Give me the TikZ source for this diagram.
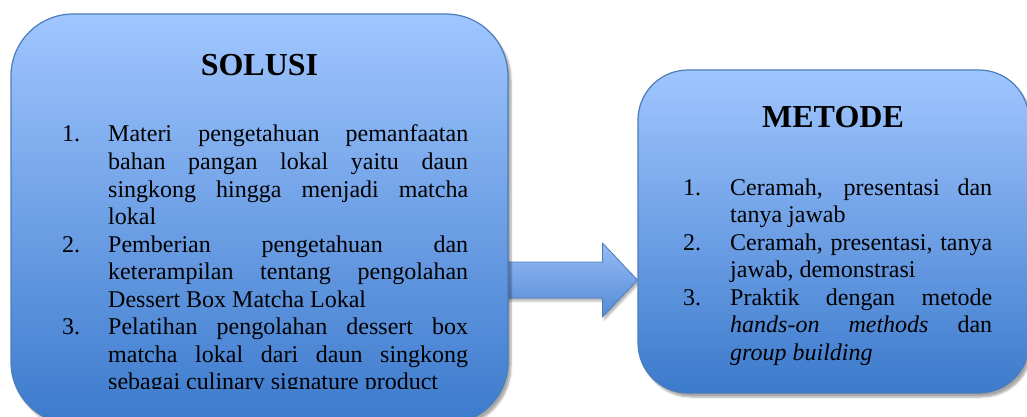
\documentclass[tikz,border=0pt]{standalone}
\usepackage{fontspec}
\setmainfont{Liberation Serif}
\usetikzlibrary{shadows.blur,calc,backgrounds}

\definecolor{paneltop}{RGB}{160,198,255}
\definecolor{panelbot}{RGB}{60,122,204}
\definecolor{panelline}{RGB}{74,126,187}
\definecolor{arrowtop}{RGB}{150,188,245}
\definecolor{arrowbot}{RGB}{84,138,214}

\newcommand{\numitem}[3]{\hangindent=#1\hangafter=1\noindent\makebox[#1][l]{#2}#3\par}

\begin{document}
\begin{tikzpicture}[x=1pt,y=-1pt,
  panel/.style={draw=panelline,line width=1.2pt,top color=paneltop,bottom color=panelbot,
    blur shadow={shadow xshift=3pt,shadow yshift=-4pt,shadow blur steps=6,shadow opacity=35}},
  arrowbody/.style={draw=panelline,line width=0.8pt,top color=arrowtop,bottom color=arrowbot,
    blur shadow={shadow xshift=2pt,shadow yshift=-3pt,shadow blur steps=4,shadow opacity=30}},
  heading/.style={font=\fontsize{32}{36}\selectfont\bfseries,inner sep=0pt,anchor=base},
  itemlist/.style={font=\fontsize{24}{27.5}\selectfont,inner sep=0pt,anchor=base west}]
  \useasboundingbox (0,0) rectangle (1027,417);
  \node[panel,minimum width=497pt,minimum height=410pt,rounded corners=62pt] (solusi) at (259.5,219) {};
  \node[panel,minimum width=391pt,minimum height=323pt,rounded corners=50pt] (metode) at (833.5,231.5) {};
  \begin{pgfonlayer}{background}
    \path (solusi.east |- 0,280) coordinate (arrowstart)
          (metode.west |- 0,280) coordinate (arrowtip);
    \draw[arrowbody] ($(arrowstart)+(-6,-18)$) -- ($(arrowtip)+(-35,-18)$) -- ($(arrowtip)+(-35,-37)$)
      -- (arrowtip) -- ($(arrowtip)+(-35,37)$) -- ($(arrowtip)+(-35,18)$) -- ($(arrowstart)+(-6,18)$) -- cycle;
  \end{pgfonlayer}
  \node[heading] (soltitle) at (259.5,76) {SOLUSI};
  \node[heading] (mettitle) at (833,128) {METODE};
  \begin{scope}
    \clip (0,0) rectangle (1027,388);
    \node[itemlist] (sollist) at (62,142) {\begin{minipage}[t]{406pt}
      \numitem{46pt}{1.}{Materi pengetahuan pemanfaatan\linebreak bahan pangan lokal yaitu daun\linebreak singkong hingga menjadi matcha\linebreak lokal}
      \numitem{46pt}{2.}{Pemberian pengetahuan dan\linebreak keterampilan tentang pengolahan\linebreak Dessert Box Matcha Lokal}
      \numitem{46pt}{3.}{Pelatihan pengolahan dessert box\linebreak matcha lokal dari daun singkong\linebreak sebagai culinary signature product}
    \end{minipage}};
  \end{scope}
  \node[itemlist] (metlist) at (683,195) {\begin{minipage}[t]{309pt}
    \numitem{47pt}{1.}{Ceramah, presentasi dan\linebreak tanya jawab}
    \numitem{47pt}{2.}{Ceramah, presentasi, tanya\linebreak jawab, demonstrasi}
    \numitem{47pt}{3.}{Praktik dengan metode\linebreak \textit{hands-on methods} dan\linebreak \textit{group building}}
  \end{minipage}};
\end{tikzpicture}
\end{document}
